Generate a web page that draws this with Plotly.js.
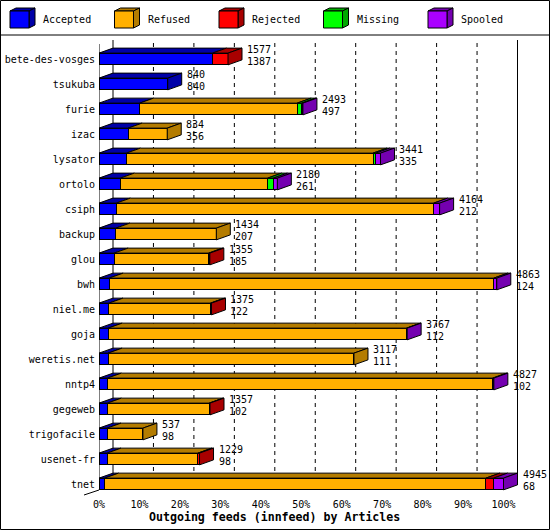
<!DOCTYPE html>
<html>
<head>
<meta charset="utf-8">
<script src="https://cdn.plot.ly/plotly-3.0.1.min.js"></script>
<style>html,body{margin:0;padding:0;background:#fff;}#chart{width:550px;height:530px;}</style>
</head>
<body>
<div id="chart"></div>
<script>
// ---- data (articles per feed) ----
const categories = ['bete-des-vosges','tsukuba','furie','izac','lysator','ortolo','csiph','backup','glou','bwh','niel.me','goja','weretis.net','nntp4','gegeweb','trigofacile','usenet-fr','tnet'];
const seriesNames = ['Accepted','Refused','Rejected','Missing','Spooled'];
const totals   = [1577, 840, 2493, 834, 3441, 2180, 4164, 1434, 1355, 4863, 1375, 3767, 3117, 4827, 1357, 537, 1229, 4945];
const accepted = [1387, 840,  497, 356,  335,  261,  212,  207,  185,  124,  122,  112,  111,  102,  102,  98,   98,   68];
const refused  = [   0,   0, 1926, 478, 3015, 1800, 3879, 1227, 1155, 4702, 1241, 3647, 3006, 4710, 1245, 439, 1111, 4662];
const rejected = [ 190,   0,    0,   0,    0,    0,    0,    0,   15,    0,   12,    0,    0,    0,   10,   0,   20,   93];
const missing  = [   0,   0,   55,   0,   33,   70,    0,    0,    0,    0,    0,    0,    0,    0,    0,   0,    0,    0];
const spooled  = [   0,   0,   15,   0,   58,   49,   73,    0,    0,   37,    0,    8,    0,   15,    0,   0,    0,  122];
const xTickVals = [0,10,20,30,40,50,60,70,80,90,100];
const xTickText = ['0%','10%','20%','30%','40%','50%','60%','70%','80%','90%','100%'];
const chartTitle = 'Outgoing feeds (innfeed) by Articles';

// ---- styles ----
const frontColors = ['#0000ff','#ffb000','#ff0000','#00ff00','#aa00ff'];
const darkColors  = ['#0000a8','#b47c00','#a80000','#00a800','#7400b0'];
const FONT = 'DejaVu Sans Mono, monospace';
const L = 99, T = 36, W = 449, H = 455;          // plot area in px
const PXX = 4.045;                              // px per percent
const PXY = 25;                                 // px per category
const DX = 14 / PXX, DY = 5 / PXY;              // 3D depth in data units
const BW = 0.47;                                // bar thickness
const px2paperX = px => (px - L) / W;
const px2paperY = py => (T + H - py) / H;

const series = [accepted, refused, rejected, missing, spooled];
const maxTotal = Math.max(...totals);
const pct = v => v / maxTotal * 100;
const idx = categories.map((c, i) => i);

const traces = series.map((vals, k) => ({
  type: 'bar', orientation: 'h', name: seriesNames[k],
  x: vals.map(v => v > 0 ? pct(v) : null), y: idx, width: BW,
  marker: {color: frontColors[k], line: {color: '#000', width: 1}},
  showlegend: false, hoverinfo: 'skip'
}));

const shapes = [];
// back wall dashed grid lines
for (let k = 1; k < xTickVals.length - 1; k++) {
  shapes.push({type:'line', layer:'below', xref:'x', yref:'y', x0:xTickVals[k]+DX, x1:xTickVals[k]+DX, y0:-0.64, y1:17.04,
    line:{color:'#000', width:1, dash:'4px,4px'}});
}
// back wall solid edges
shapes.push({type:'line', layer:'below', xref:'x', yref:'y', x0:DX, x1:DX, y0:-0.76, y1:17.04, line:{color:'#000', width:1}});
shapes.push({type:'line', layer:'below', xref:'x', yref:'y', x0:100+DX, x1:100+DX, y0:-0.76, y1:17.04, line:{color:'#000', width:1}});
// front axis line
shapes.push({type:'line', layer:'below', xref:'x', yref:'y', x0:0, x1:0, y0:-0.6, y1:17.24, line:{color:'#000', width:1}});
// floor depth line
shapes.push({type:'line', xref:'paper', yref:'paper', x0:px2paperX(99), y0:px2paperY(490), x1:px2paperX(84), y1:px2paperY(495), line:{color:'#000', width:1}});

// 3D faces of bars
idx.forEach(i => {
  let s = 0, last = -1, lastEnd = 0;
  const yt = i - BW / 2, yb = i + BW / 2;
  series.forEach((vals, k) => {
    const v = vals[i];
    if (v > 0) {
      const e = s + pct(v);
      shapes.push({type:'path', xref:'x', yref:'y', fillcolor: darkColors[k], line:{color:'#000', width:1},
        path:`M${s},${yt} L${e},${yt} L${e+DX},${yt-DY} L${s+DX},${yt-DY} Z`});
      last = k; lastEnd = e; s = e;
    }
  });
  if (last >= 0) {
    const e = lastEnd;
    shapes.push({type:'path', xref:'x', yref:'y', fillcolor: darkColors[last], line:{color:'#000', width:1},
      path:`M${e},${yt} L${e+DX},${yt-DY} L${e+DX},${yb-DY} L${e},${yb} Z`});
  }
});

const annotations = [];
idx.forEach(i => {
  const endX = pct(totals[i]);
  annotations.push({xref:'x', yref:'y', x:endX, y:i-0.38, xshift:17, xanchor:'left', yanchor:'middle', showarrow:false,
    text:String(totals[i]), font:{family:FONT, size:10, color:'#000'}});
  annotations.push({xref:'x', yref:'y', x:endX, y:i+0.1, xshift:17, xanchor:'left', yanchor:'middle', showarrow:false,
    text:String(accepted[i]), font:{family:FONT, size:10, color:'#000'}});
});

// legend header (3D cubes + names)
seriesNames.forEach((name, k) => {
  const x0 = 10 + k * 104.5, x1 = x0 + 19, y0 = 11, y1 = 28, d = 6, dd = 3;
  shapes.push({type:'path', xref:'paper', yref:'paper', fillcolor: darkColors[k], line:{color:'#000', width:1},
    path:`M${px2paperX(x0)},${px2paperY(y0)} L${px2paperX(x1)},${px2paperY(y0)} L${px2paperX(x1+d)},${px2paperY(y0-dd)} L${px2paperX(x0+d)},${px2paperY(y0-dd)} Z`});
  shapes.push({type:'path', xref:'paper', yref:'paper', fillcolor: darkColors[k], line:{color:'#000', width:1},
    path:`M${px2paperX(x1)},${px2paperY(y0)} L${px2paperX(x1+d)},${px2paperY(y0-dd)} L${px2paperX(x1+d)},${px2paperY(y1-dd)} L${px2paperX(x1)},${px2paperY(y1)} Z`});
  shapes.push({type:'rect', xref:'paper', yref:'paper', fillcolor: frontColors[k], line:{color:'#000', width:1},
    x0:px2paperX(x0), x1:px2paperX(x1), y0:px2paperY(y1), y1:px2paperY(y0)});
  annotations.push({xref:'paper', yref:'paper', x:px2paperX(x0+31), y:px2paperY(20), xanchor:'left', yanchor:'middle', showarrow:false,
    text:name, font:{family:FONT, size:10, color:'#000'}});
});
// header separator and outer frame
shapes.push({type:'line', xref:'paper', yref:'paper', x0:px2paperX(0), x1:px2paperX(550), y0:px2paperY(35), y1:px2paperY(35), line:{color:'#000', width:1}});
shapes.push({type:'rect', xref:'paper', yref:'paper', x0:px2paperX(0.5), x1:px2paperX(549.5), y0:px2paperY(529.5), y1:px2paperY(0.5), line:{color:'#000', width:1}});

// chart title
annotations.push({xref:'paper', yref:'paper', x:px2paperX(274), y:px2paperY(517), xanchor:'center', yanchor:'middle', showarrow:false,
  text:chartTitle, font:{family:FONT, size:11.6, color:'#000', weight:'bold'}});

const layout = {
  width: 550, height: 530,
  margin: {l: L, r: 550 - L - W, t: T, b: 530 - T - H, pad: 0},
  paper_bgcolor: '#fff', plot_bgcolor: '#fff',
  barmode: 'stack', bargap: 0,
  font: {family: FONT, size: 10, color: '#000'},
  xaxis: {range: [0, W / PXX], tickvals: xTickVals, ticktext: xTickText, showgrid: false, zeroline: false, showline: false,
    ticks: '', ticklabelstandoff: 6, tickfont: {family: FONT, size: 10, color: '#000'}, fixedrange: true},
  yaxis: {range: [(T + H - 59) / PXY, (T - 59) / PXY], tickvals: idx, ticktext: categories, showgrid: false, zeroline: false,
    showline: false, ticks: '', ticklabelstandoff: 3, tickfont: {family: FONT, size: 10, color: '#000'}, fixedrange: true},
  shapes: shapes, annotations: annotations, showlegend: false
};

Plotly.newPlot('chart', traces, layout, {displayModeBar: false, staticPlot: true});
</script>
</body>
</html>
